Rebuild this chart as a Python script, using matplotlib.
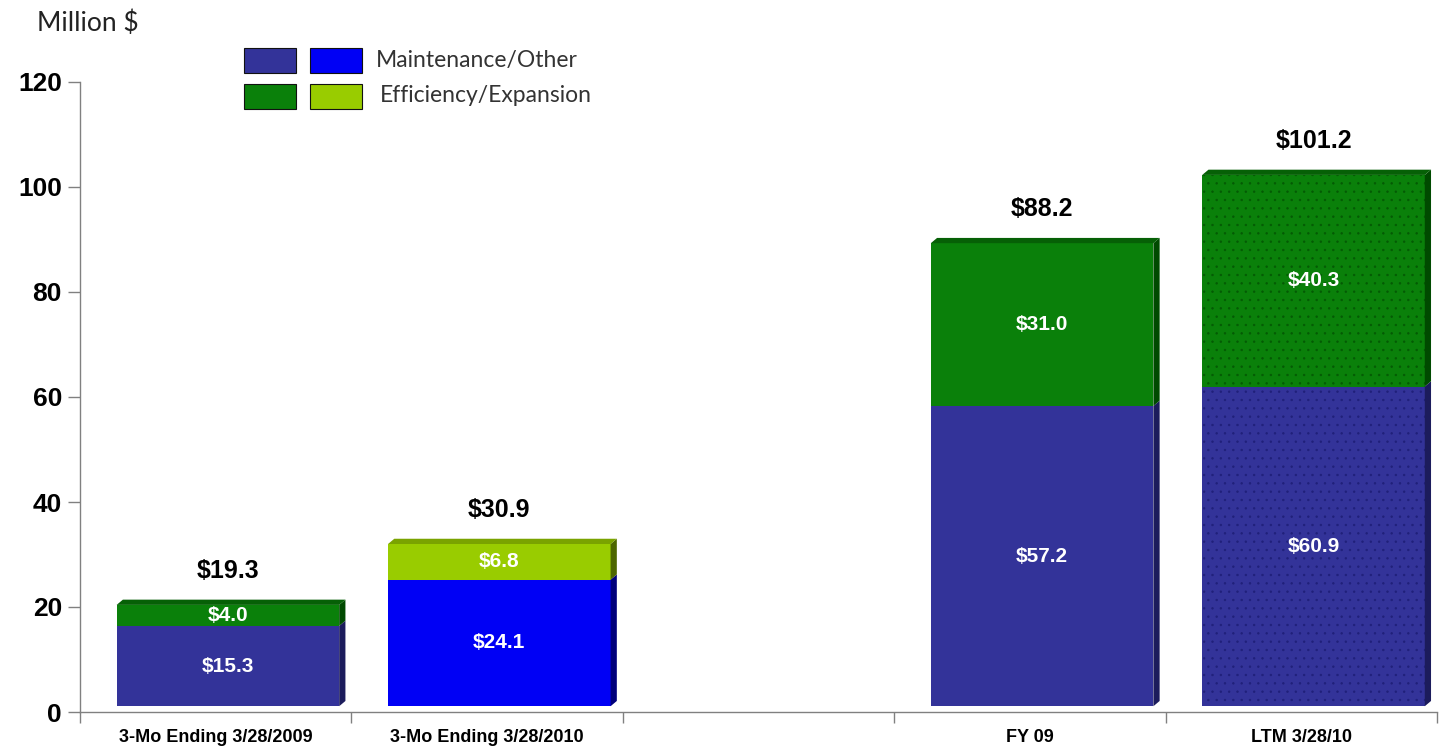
import numpy as np
import matplotlib.pyplot as plt
from matplotlib.patches import Polygon, Rectangle

# Capital spending by period (million $)
categories = ["3-Mo Ending 3/28/2009", "3-Mo Ending 3/28/2010", "FY 09", "LTM 3/28/10"]
maintenance = [15.3, 24.1, 57.2, 60.9]
efficiency = [4.0, 6.8, 31.0, 40.3]
legend_labels = ["Maintenance/Other", "Efficiency/Expansion"]

# slot 2 is left empty between the quarterly and annual groups
slots = np.array([0, 1, 3, 4])
n_slots = 5

navy, navy_side = "#333399", "#1c1c5c"
blue, blue_side = "#0000f5", "#00007a"
green, green_side, green_top = "#0a800a", "#004a00", "#066006"
lime, lime_side, lime_top = "#99cc00", "#4d6600", "#7aa300"

maint_colors = [navy, blue, navy, navy]
maint_sides = [navy_side, blue_side, navy_side, navy_side]
eff_colors = [green, lime, green, green]
eff_sides = [green_side, lime_side, green_side, green_side]
eff_tops = [green_top, lime_top, green_top, green_top]
# only the trailing-twelve-month bar carries the dotted fill
hatches = ["", "", "", ".."]
dots_m = [navy, blue, navy, "#20207a"]
dots_e = [green, lime, green, "#045a04"]

narrow = ["Liberation Sans Narrow", "Liberation Sans", "DejaVu Sans"]
plt.rcParams["hatch.linewidth"] = 0.5

fig = plt.figure(figsize=(14.45, 7.51), dpi=100)
ax = fig.add_axes([80 / 1445, 39 / 751, 1357 / 1445, 630 / 751])

width = 0.82
shift = 0.045
base = 1.1      # front face sits slightly above the floor
dx, dy = 0.023, 1.0   # depth of the pseudo-3D faces

x = slots + shift
m = np.array(maintenance)
e = np.array(efficiency)
tot = m + e

# full stack in the top colour first, maintenance drawn over it (no seam)
ax.bar(x, tot, width, bottom=base, color=eff_colors, edgecolor=dots_e,
       hatch=hatches, linewidth=0, zorder=3)
ax.bar(x, m, width, bottom=base, color=maint_colors, edgecolor=dots_m,
       hatch=hatches, linewidth=0, zorder=3)

for i in range(len(x)):
    x0, x1 = x[i] - width / 2, x[i] + width / 2
    # right-hand side faces for each segment
    for b, t, c in [(base, base + m[i], maint_sides[i]),
                    (base + m[i], base + tot[i], eff_sides[i])]:
        ax.add_patch(Polygon([(x1, b), (x1 + dx, b + dy), (x1 + dx, t + dy), (x1, t)],
                             closed=True, facecolor=c, edgecolor="none", zorder=3))
    top = base + tot[i]
    ax.add_patch(Polygon([(x0, top), (x0 + dx, top + dy), (x1 + dx, top + dy), (x1, top)],
                         closed=True, facecolor=eff_tops[i], edgecolor="none", zorder=3))

    # segment values and totals
    ax.text(x[i], base + m[i] / 2, f"${m[i]:.1f}", color="white", ha="center",
            va="center", fontsize=15, fontweight="bold", family="Liberation Sans", zorder=5)
    ax.text(x[i], base + m[i] + e[i] / 2, f"${e[i]:.1f}", color="white", ha="center",
            va="center", fontsize=15, fontweight="bold", family="Liberation Sans", zorder=5)
    ax.text(x[i], top + 6.5, f"${tot[i]:.1f}", color="black", ha="center",
            va="center", fontsize=18, fontweight="bold", family="Liberation Sans", zorder=5)

ax.set_xlim(-0.5, n_slots - 0.5)
ax.set_ylim(0, 120)

ax.set_yticks(np.arange(0, 121, 20))
ax.set_yticklabels([str(v) for v in range(0, 121, 20)], fontsize=19, fontweight="bold",
                   family=narrow)
ax.set_xticks(np.arange(-0.5, n_slots, 1.0))
ax.set_xticklabels([])
ax.set_xticks(slots, minor=True)
ax.set_xticklabels(categories, minor=True, fontsize=13, fontweight="bold", family=narrow)
ax.tick_params(axis="x", which="minor", length=0, pad=12)
ax.tick_params(axis="x", which="major", length=8, color="#808080", width=1)
ax.tick_params(axis="y", length=9, color="#808080", width=1, pad=4)

for s in ["top", "right"]:
    ax.spines[s].set_visible(False)
for s in ["left", "bottom"]:
    ax.spines[s].set_color("#808080")
    ax.spines[s].set_linewidth(1)

# unit label and the hand-made legend
fig.text(37 / 1445, 1 - 23 / 751, "Million $", fontsize=19, family="Lato",
         color="#222222", va="center", ha="left")
swatches = [[navy, blue], [green, lime]]
rows_y = [60, 96]
for r, (cols, lab) in enumerate(zip(swatches, legend_labels)):
    for k, c in enumerate(cols):
        x_px = 244 + k * 66
        fig.patches.append(Rectangle((x_px / 1445, 1 - (rows_y[r] + 12.5) / 751),
                                     52 / 1445, 25 / 751, transform=fig.transFigure,
                                     facecolor=c, edgecolor="#111111", linewidth=0.8))
    fig.text((376 + 4 * r) / 1445, 1 - rows_y[r] / 751, lab, fontsize=16.5, family="Lato",
             color="#333333", va="center", ha="left")

fig.savefig("out.png", dpi=100)
